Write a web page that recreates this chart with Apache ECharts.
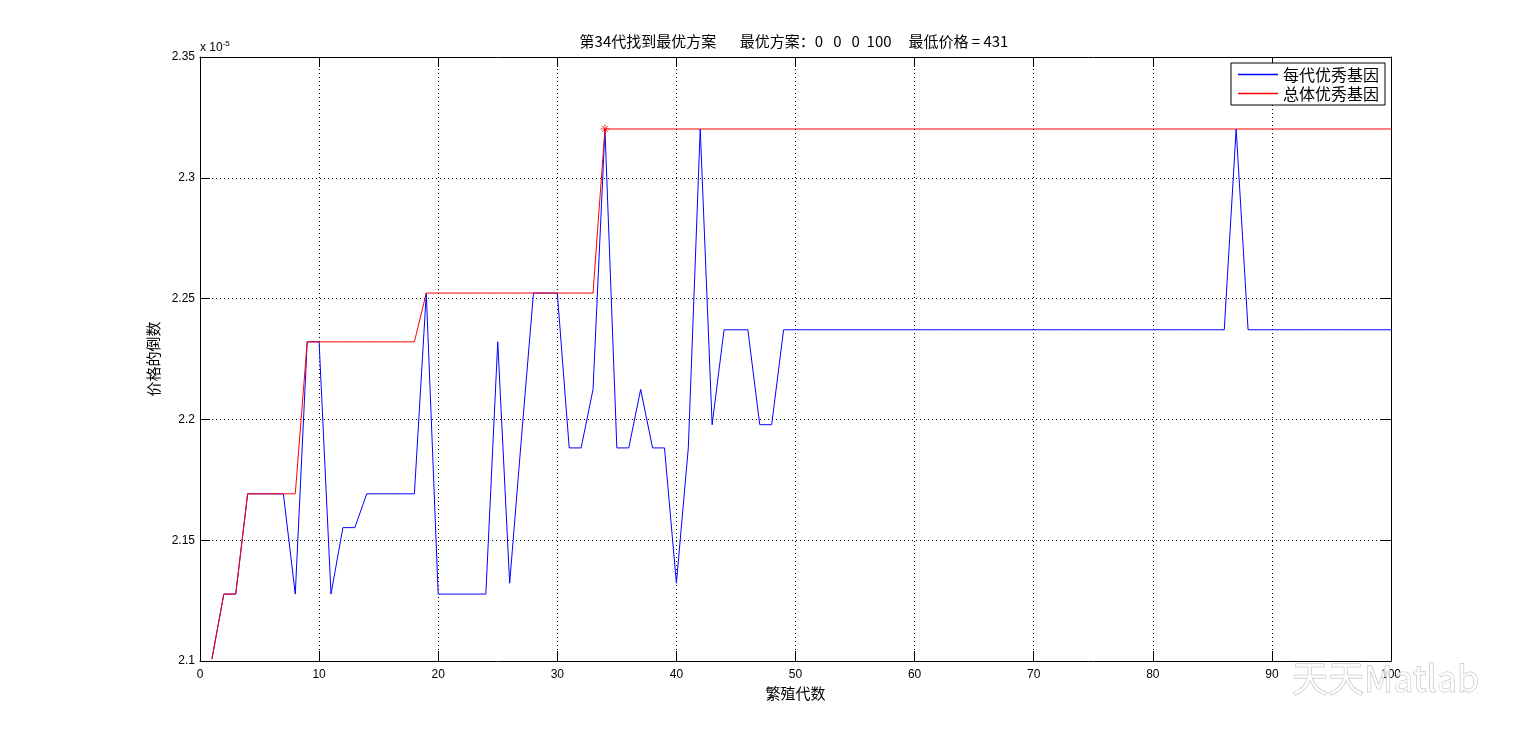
<!DOCTYPE html>
<html><head><meta charset="utf-8">
<script src="https://cdn.jsdelivr.net/npm/echarts@6/dist/echarts.min.js"></script>
<style>html,body{margin:0;padding:0;background:#fff}#c{width:1537px;height:746px}</style>
</head><body><div id="c"></div>
<script>
// values are in units of 1e-5 (reciprocal of price)
const bestPerGen = [
  2.1008,2.1277,2.1277,2.1692,2.1692,2.1692,2.1692,2.1277,2.2321,2.2321,
  2.1277,2.1552,2.1552,2.1692,2.1692,2.1692,2.1692,2.1692,2.2523,2.1277,
  2.1277,2.1277,2.1277,2.1277,2.2321,2.1322,2.1930,2.2523,2.2523,2.2523,
  2.1882,2.1882,2.2124,2.3202,2.1882,2.1882,2.2124,2.1882,2.1882,2.1322,
  2.1882,2.3202,2.1978,2.2371,2.2371,2.2371,2.1978,2.1978,2.2371,2.2371,
  2.2371,2.2371,2.2371,2.2371,2.2371,2.2371,2.2371,2.2371,2.2371,2.2371,
  2.2371,2.2371,2.2371,2.2371,2.2371,2.2371,2.2371,2.2371,2.2371,2.2371,
  2.2371,2.2371,2.2371,2.2371,2.2371,2.2371,2.2371,2.2371,2.2371,2.2371,
  2.2371,2.2371,2.2371,2.2371,2.2371,2.2371,2.3202,2.2371,2.2371,2.2371,
  2.2371,2.2371,2.2371,2.2371,2.2371,2.2371,2.2371,2.2371,2.2371,2.2371
];
const bestOverall = [
  2.1008,2.1277,2.1277,2.1692,2.1692,2.1692,2.1692,2.1692,2.2321,2.2321,
  2.2321,2.2321,2.2321,2.2321,2.2321,2.2321,2.2321,2.2321,2.2523,2.2523,
  2.2523,2.2523,2.2523,2.2523,2.2523,2.2523,2.2523,2.2523,2.2523,2.2523,
  2.2523,2.2523,2.2523,2.3202,2.3202,2.3202,2.3202,2.3202,2.3202,2.3202,
  2.3202,2.3202,2.3202,2.3202,2.3202,2.3202,2.3202,2.3202,2.3202,2.3202,
  2.3202,2.3202,2.3202,2.3202,2.3202,2.3202,2.3202,2.3202,2.3202,2.3202,
  2.3202,2.3202,2.3202,2.3202,2.3202,2.3202,2.3202,2.3202,2.3202,2.3202,
  2.3202,2.3202,2.3202,2.3202,2.3202,2.3202,2.3202,2.3202,2.3202,2.3202,
  2.3202,2.3202,2.3202,2.3202,2.3202,2.3202,2.3202,2.3202,2.3202,2.3202,
  2.3202,2.3202,2.3202,2.3202,2.3202,2.3202,2.3202,2.3202,2.3202,2.3202
];
const bestPoint = [34, 2.3202];
const seriesNames = ['每代优秀基因', '总体优秀基因'];
const seriesColors = ['#0000ff', '#ff0000'];
const titleText = '第34代找到最优方案       最优方案：0   0   0  100     最低价格 = 431';
const xName = '繁殖代数';
const yName = '价格的倒数';

const gens = bestPerGen.map((_, i) => i + 1);
const blueData = gens.map((g, i) => [g, bestPerGen[i]]);
const redData = gens.map((g, i) => [g, bestOverall[i]]);

const cjk = '"Noto Sans CJK SC", "Liberation Sans", sans-serif';
const num = '"Liberation Sans", Arial, sans-serif';
const dotted = { show: true, lineStyle: { color: '#000', type: [1, 3], width: 1 } };
const tick = { show: true, inside: true, length: 10, lineStyle: { color: '#000' } };
const line = { show: true, onZero: false, lineStyle: { color: '#000', width: 1 } };

const chart = echarts.init(document.getElementById('c'), null, { renderer: 'canvas' });
chart.setOption({
  animation: false,
  backgroundColor: '#fff',
  grid: { left: 200, right: 146, top: 57, bottom: 85, containLabel: false },
  xAxis: [
    { type: 'value', min: 0, max: 100, interval: 10, position: 'bottom',
      name: xName, nameLocation: 'middle', nameGap: 23,
      nameTextStyle: { fontFamily: cjk, fontSize: 15, color: '#000' },
      axisLine: line, axisTick: tick, splitLine: dotted,
      axisLabel: { color: '#000', fontFamily: num, fontSize: 12, margin: 8 } },
    { type: 'value', min: 0, max: 100, interval: 10, position: 'top',
      axisLine: line, axisTick: tick, splitLine: { show: false }, axisLabel: { show: false } }
  ],
  yAxis: [
    { type: 'value', min: 2.1, max: 2.35, interval: 0.05, position: 'left',
      name: yName, nameLocation: 'middle', nameGap: 36, nameRotate: 90,
      nameTextStyle: { fontFamily: cjk, fontSize: 15, color: '#000' },
      axisLine: line, axisTick: tick, splitLine: dotted,
      axisLabel: { color: '#000', fontFamily: num, fontSize: 12, margin: 5,
        formatter: v => String(Math.round(v * 100) / 100) } },
    { type: 'value', min: 2.1, max: 2.35, interval: 0.05, position: 'right',
      axisLine: line, axisTick: tick, splitLine: { show: false }, axisLabel: { show: false } }
  ],
  legend: {
    left: 1231, top: 63, orient: 'vertical',
    backgroundColor: '#fff', borderColor: '#000', borderWidth: 1,
    padding: [3, 6, 3, 7], itemGap: 2,
    itemWidth: 40, itemHeight: 1.6, icon: 'rect',
    textStyle: { fontFamily: cjk, fontSize: 16, lineHeight: 17, color: '#000' },
    data: seriesNames.map((n, i) => ({ name: n, itemStyle: { color: seriesColors[i] } }))
  },
  series: [
    { name: seriesNames[0], type: 'line', data: blueData, symbol: 'none',
      lineStyle: { color: seriesColors[0], width: 1 }, itemStyle: { color: seriesColors[0] } },
    { name: seriesNames[1], type: 'line', data: redData, symbol: 'none',
      lineStyle: { color: seriesColors[1], width: 1 }, itemStyle: { color: seriesColors[1] } },
    { type: 'scatter', data: [bestPoint],
      symbol: 'path://M0,-5L0,5M-5,0L5,0M-3.5,-3.5L3.5,3.5M-3.5,3.5L3.5,-3.5',
      symbolSize: 9, itemStyle: { color: 'none', borderColor: '#ff0000', borderWidth: 1 }, z: 5 }
  ],
  graphic: [
    { type: 'text', x: 794, y: 41, style: { text: titleText, fontFamily: cjk, fontSize: 15,
      fill: '#000', textAlign: 'center', textVerticalAlign: 'middle' } },
    { type: 'text', x: 200, y: 40, style: {
      text: '{a|x 10}{b|-5}', rich: {
        a: { fontFamily: num, fontSize: 12, fill: '#000', verticalAlign: 'bottom' },
        b: { fontFamily: num, fontSize: 8, fill: '#000', verticalAlign: 'top', padding: [0, 0, 6, 0] } } } },
    { type: 'text', x: 1292, y: 660, z: 100, style: { text: '天天Matlab', fontFamily: cjk, fontSize: 36,
      fill: '#fff', stroke: '#aaa', lineWidth: 1, opacity: 0.8 } }
  ]
});
</script></body></html>
